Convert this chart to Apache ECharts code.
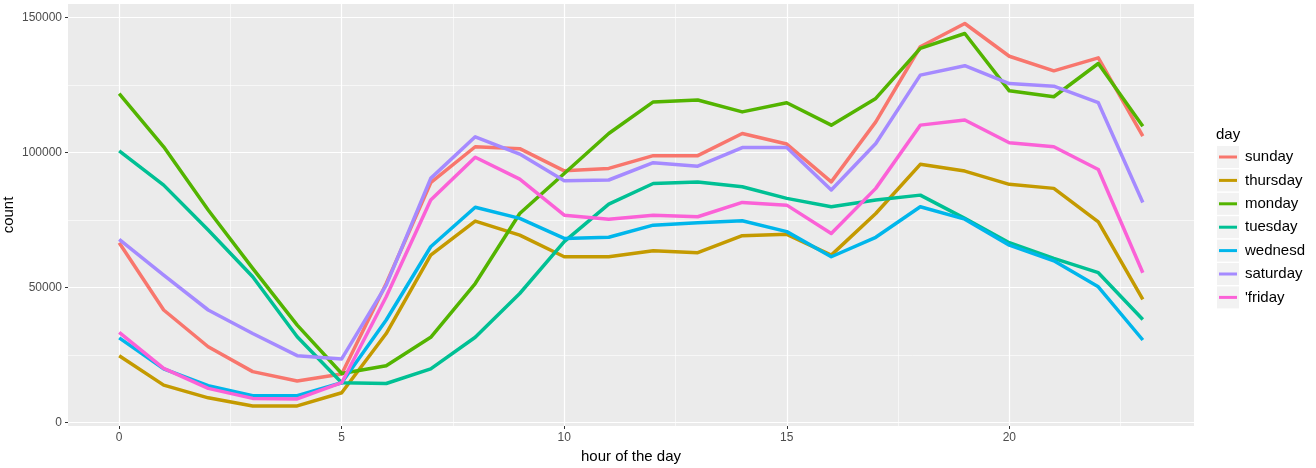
<!DOCTYPE html>
<html>
<head>
<meta charset="utf-8">
<script src="https://cdn.jsdelivr.net/npm/echarts@6/dist/echarts.min.js"></script>
<style>html,body{margin:0;padding:0;background:#fff}#c{width:1316px;height:468px}</style>
</head>
<body>
<div id="c"></div>
<script>
const hours = [0,1,2,3,4,5,6,7,8,9,10,11,12,13,14,15,16,17,18,19,20,21,22,23];
const dayNames = ["sunday","thursday","monday","tuesday","wednesd","saturday","'friday"];
const dayColors = ["#F8766D","#C49A00","#53B400","#00C094","#00B6EB","#A58AFF","#FB61D7"];
const sunday    = [66600,41700,28100,18900,15400,18000,51500,88800,102100,101400,93200,94100,98800,98800,107000,103100,89100,111300,139100,147700,135600,130200,135000,106000];
const thursday  = [24800,13900,9200,6200,6200,11100,33000,62000,74600,69400,61400,61400,63600,62900,69200,69700,62000,77400,95600,93100,88200,86700,74300,45600];
const monday    = [121800,102100,78700,57100,36100,18200,21100,31600,51500,77400,92200,107000,118700,119400,115000,118400,110100,120000,138500,144000,122800,120600,132900,109700];
const tuesday   = [100600,87900,71300,54000,31800,14800,14500,19900,31600,47800,67000,80900,88500,89100,87300,83000,79900,82400,84200,75600,66600,60800,55500,38200];
const wednesday = [31400,19900,13700,10000,10000,14800,38000,65100,79700,75600,68200,68600,73100,74000,74700,70700,61400,68600,79900,75300,65700,59900,50300,30600];
const saturday  = [67800,54600,41700,33000,24800,23600,50900,90400,105800,99400,89500,89800,96200,94900,101800,101800,86100,103300,128600,132100,125500,124500,118400,81500];
const friday    = [33400,20100,12700,9000,8800,14800,46600,82400,98200,90100,76800,75300,76800,76200,81500,80500,70000,86700,110100,112000,103600,102100,93700,55500];
const yMajorTicks = [0,50000,100000,150000];
const yMinorTicks = [25000,75000,125000];
const xMajorTicks = [0,5,10,15,20];
const xMinorTicks = [2.5,7.5,12.5,17.5,22.5];
const seriesValues = [sunday,thursday,monday,tuesday,wednesday,saturday,friday];

const chart = echarts.init(document.getElementById('c'), null, {renderer:'canvas'});
const font = "'Liberation Sans', Arial, sans-serif";
const yMin = -1220, yMax = 154920, xMin = -1.15, xMax = 24.15;
const plain = v => String(v);

const keyRects = [];
for (let i = 0; i < dayNames.length; i++) {
  keyRects.push({type:'rect', left:1217, top:146 + i*23.4, shape:{width:22, height:22}, style:{fill:'#F2F2F2'}, z:-1});
}

const series = seriesValues.map((vals, i) => ({
  name: dayNames[i],
  type: 'line',
  data: hours.map((h, j) => [h, vals[j]]),
  showSymbol: false,
  symbol: 'none',
  lineStyle: {width: 3.5, color: dayColors[i], cap:'butt', join:'round'},
  itemStyle: {color: dayColors[i]},
  emphasis: {disabled: true},
  silent: true,
  animation: false,
  z: 3 + i
}));

chart.setOption({
  animation: false,
  backgroundColor: '#ffffff',
  textStyle: {fontFamily: font},
  grid: {left:68, top:4, right:122, bottom:42, show:true, backgroundColor:'#EBEBEB', borderWidth:0, containLabel:false, outerBoundsMode:'none'},
  xAxis: [{
    type:'value', min:xMin, max:xMax, position:'bottom',
    axisLine:{show:false, onZero:false},
    axisTick:{show:true, length:3, lineStyle:{color:'#333333', width:1}, customValues:xMajorTicks},
    axisLabel:{show:true, color:'#4D4D4D', fontSize:12, margin:6, fontFamily:font, customValues:xMajorTicks, formatter:plain},
    splitLine:{show:true, lineStyle:{color:'#FFFFFF', width:1.2}},
    name:'hour of the day', nameLocation:'middle', nameGap:23, nameMoveOverlap:false,
    nameTextStyle:{color:'#000000', fontSize:15, fontFamily:font}
  },{
    type:'value', min:xMin, max:xMax, position:'top',
    axisLine:{show:false, onZero:false},
    axisTick:{show:false, customValues:xMinorTicks},
    axisLabel:{show:false, customValues:xMinorTicks},
    splitLine:{show:true, lineStyle:{color:'#FFFFFF', width:0.6}}
  }],
  yAxis: [{
    type:'value', min:yMin, max:yMax, position:'left',
    axisLine:{show:false, onZero:false},
    axisTick:{show:true, length:3, lineStyle:{color:'#333333', width:1}, customValues:yMajorTicks},
    axisLabel:{show:true, color:'#4D4D4D', fontSize:12, margin:6, fontFamily:font, customValues:yMajorTicks, formatter:plain},
    splitLine:{show:true, lineStyle:{color:'#FFFFFF', width:1.2}},
    name:'count', nameLocation:'middle', nameGap:52, nameRotate:90, nameMoveOverlap:false,
    nameTextStyle:{color:'#000000', fontSize:15, fontFamily:font}
  },{
    type:'value', min:yMin, max:yMax, position:'right',
    axisLine:{show:false, onZero:false},
    axisTick:{show:false, customValues:yMinorTicks},
    axisLabel:{show:false, customValues:yMinorTicks},
    splitLine:{show:true, lineStyle:{color:'#FFFFFF', width:0.6}}
  }],
  legend: {
    show:true, orient:'vertical', left:1219, top:149, padding:0,
    itemWidth:18, itemHeight:3, itemGap:7.4, icon:'rect',
    selectedMode:false,
    textStyle:{color:'#000000', fontSize:15, fontFamily:font, lineHeight:16, padding:[0,0,0,3]},
    data: dayNames
  },
  graphic: [
    {type:'text', left:1216, top:127, style:{text:'day', fill:'#000000', font:"15px 'Liberation Sans', Arial, sans-serif"}}
  ].concat(keyRects),
  series: series
});
</script>
</body>
</html>
